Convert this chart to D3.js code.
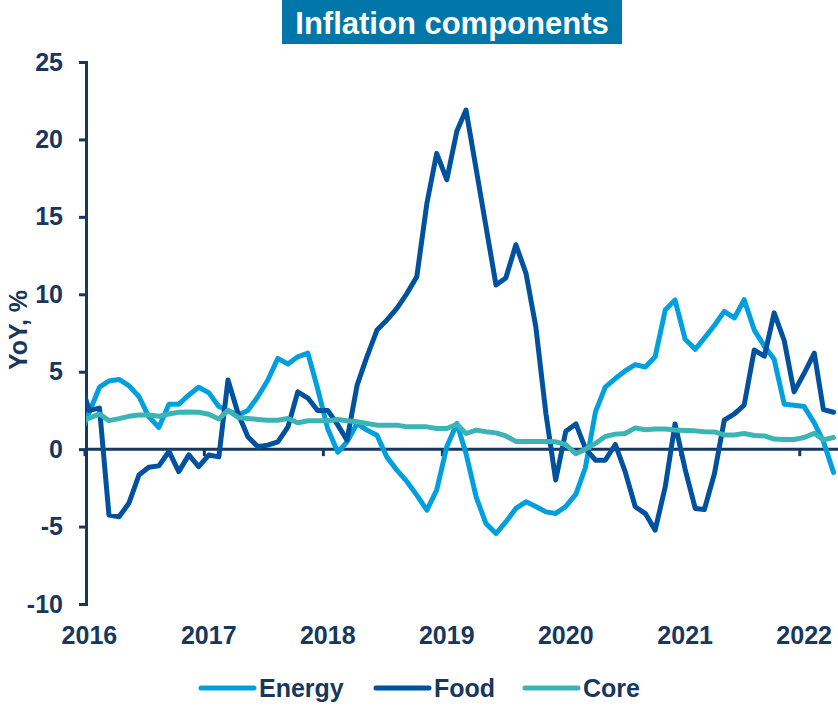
<!DOCTYPE html>
<html><head><meta charset="utf-8">
<script src="https://cdn.jsdelivr.net/npm/d3@7"></script>
<style>
html,body{margin:0;padding:0;background:#fff;}
svg{display:block;font-family:"Liberation Sans",Arial,sans-serif;font-weight:bold;}
</style></head>
<body><svg id="c" width="838" height="706"></svg>
<script>
// Monthly data, Dec 2015 .. Apr 2022 (Dec 2015 lies left of the axis and is clipped)
const startYear = 2015, startMonth = 11;
const energy = [0.8,
  2.4, 4.0, 4.4, 4.5, 4.1, 3.4, 2.1, 1.4, 2.9, 2.9, 3.5, 4.0,
  3.65, 2.75, 2.5, 2.2, 2.5, 3.4, 4.45, 5.86, 5.5, 5.96, 6.2, 3.9,
  1.3, -0.2, 0.47, 1.66, 1.23, 0.9, -0.5, -1.36, -2.1, -2.97, -3.94, -2.65,
  0.15, 1.66, -0.28, -3.08, -4.8, -5.45, -4.7, -3.83, -3.4, -3.7, -4.05, -4.15,
  -3.7, -2.9, -1.2, 2.41, 4.0, 4.56, 5.05, 5.46, 5.3, 5.96, 8.98, 9.63,
  7.1, 6.45, 7.17, 8.0, 8.9, 8.47, 9.65, 7.69, 6.65, 5.8, 2.9, 2.84,
  2.75, 1.7, 0.5, -1.5];
const food = [4.5,
  2.5, 2.65, -4.26, -4.37, -3.5, -1.67, -1.17, -1.08, -0.15, -1.45, -0.37, -1.13,
  -0.38, -0.5, 4.46, 2.3, 0.8, 0.15, 0.26, 0.47, 1.44, 3.7, 3.3, 2.5,
  2.5, 1.55, 0.58, 4.13, 5.96, 7.69, 8.33, 9.09, 10.06, 11.13, 15.87, 19.1,
  17.4, 20.55, 21.9, 18.1, 14.4, 10.6, 11.05, 13.2, 11.35, 7.9, 2.3, -2.0,
  1.15, 1.63, 0.05, -0.71, -0.71, 0.3, -1.45, -3.72, -4.16, -5.23, -2.43, 1.63,
  -1.3, -3.83, -3.9, -1.57, 1.87, 2.28, 2.84, 6.4, 6.0, 8.8, 7.0, 3.7,
  4.9, 6.2, 2.55, 2.38];
const core = [1.85,
  2.0, 2.27, 1.84, 1.97, 2.12, 2.2, 2.2, 2.12, 2.27, 2.38, 2.4, 2.38,
  2.25, 1.95, 2.5, 2.05, 1.98, 1.92, 1.87, 1.87, 1.98, 1.7, 1.83, 1.83,
  1.83, 1.92, 1.83, 1.77, 1.66, 1.55, 1.55, 1.55, 1.44, 1.44, 1.44, 1.33,
  1.33, 1.6, 1.01, 1.23, 1.12, 1.05, 0.85, 0.5, 0.5, 0.5, 0.5, 0.47,
  0.3, -0.3, 0.0, 0.37, 0.82, 0.97, 1.01, 1.37, 1.25, 1.3, 1.3, 1.23,
  1.2, 1.18, 1.12, 1.11, 0.92, 0.92, 1.01, 0.88, 0.85, 0.65, 0.62, 0.62,
  0.75, 1.03, 0.6, 0.75];
const seriesNames = ["Energy", "Food", "Core"];
const seriesColors = ["#00A0DF", "#00529E", "#3CB4B6"];
const yTicks = [-10, -5, 0, 5, 10, 15, 20, 25];
const yearLabels = ["2016", "2017", "2018", "2019", "2020", "2021", "2022"];
const titleText = "Inflation components";
const yTitle = "YoY, %";

const ink = "#17375E";
const svg = d3.select("#c");

const dates = energy.map((_, i) => new Date(startYear, startMonth + i, 16));
const x = d3.scaleTime().domain([new Date(2016, 0, 1), new Date(2022, 4, 1)]).range([84.5, 838.4]);
const y = d3.scaleLinear().domain([-10, 25]).range([604, 62]);

// title
const tb = svg.append("g");
tb.append("rect").attr("x", 282).attr("y", 0).attr("width", 340).attr("height", 44).attr("fill", "#0076A9");
tb.append("text").attr("x", 452).attr("y", 34).attr("text-anchor", "middle").attr("fill", "#fff")
  .attr("font-size", 31).text(titleText);

// clip
svg.append("clipPath").attr("id", "pc").append("rect")
  .attr("x", 86).attr("y", 40).attr("width", 760).attr("height", 600);

// y axis
const ya = svg.append("g").attr("transform", "translate(86,0)")
  .call(d3.axisLeft(y).tickValues(yTicks).tickSize(7).tickPadding(16).tickFormat(d => String(d)));
ya.select(".domain").attr("stroke", ink).attr("stroke-width", 3);
ya.selectAll(".tick line").attr("stroke", ink).attr("stroke-width", 3);
ya.selectAll(".tick text").attr("fill", ink).attr("font-size", 25).attr("font-weight", "bold")
  .attr("font-family", "Liberation Sans, Arial, sans-serif");

// y title
svg.append("text").attr("transform", "translate(27,330) rotate(-90)").attr("text-anchor", "middle")
  .attr("fill", ink).attr("font-size", 25).text(yTitle);

// x axis at zero
const yearTicks = d3.timeYear.range(new Date(2016, 0, 1), new Date(2022, 1, 1));
const xa = svg.append("g").attr("transform", `translate(0,${y(0)})`)
  .call(d3.axisBottom(x).tickValues(yearTicks).tickSize(7).tickFormat(""));
xa.select(".domain").attr("stroke", ink).attr("stroke-width", 3).attr("d", `M86,0H838`);
xa.selectAll(".tick line").attr("stroke", ink).attr("stroke-width", 3);

// year labels (centred on mid-January)
svg.append("g").selectAll("text").data(yearLabels).join("text")
  .attr("x", d => x(new Date(+d, 0, 16))).attr("y", 644).attr("text-anchor", "middle")
  .attr("fill", ink).attr("font-size", 25).text(d => d);

// lines
const allSeries = [energy, food, core];
const line = d3.line().x((d, i) => x(dates[i])).y(d => y(d));
const lg = svg.append("g").attr("clip-path", "url(#pc)");
allSeries.forEach((s, k) => {
  lg.append("path").datum(s).attr("d", line).attr("fill", "none")
    .attr("stroke", seriesColors[k]).attr("stroke-width", 5)
    .attr("stroke-linejoin", "round").attr("stroke-linecap", "round");
});

// legend
const legX = [201, 376, 525];
const leg = svg.append("g");
seriesNames.forEach((n, k) => {
  leg.append("line").attr("x1", legX[k]).attr("x2", legX[k] + 53).attr("y1", 688).attr("y2", 688)
    .attr("stroke", seriesColors[k]).attr("stroke-width", 5).attr("stroke-linecap", "round");
  leg.append("text").attr("x", legX[k] + 58).attr("y", 697).attr("fill", ink).attr("font-size", 25).text(n);
});
</script></body></html>
